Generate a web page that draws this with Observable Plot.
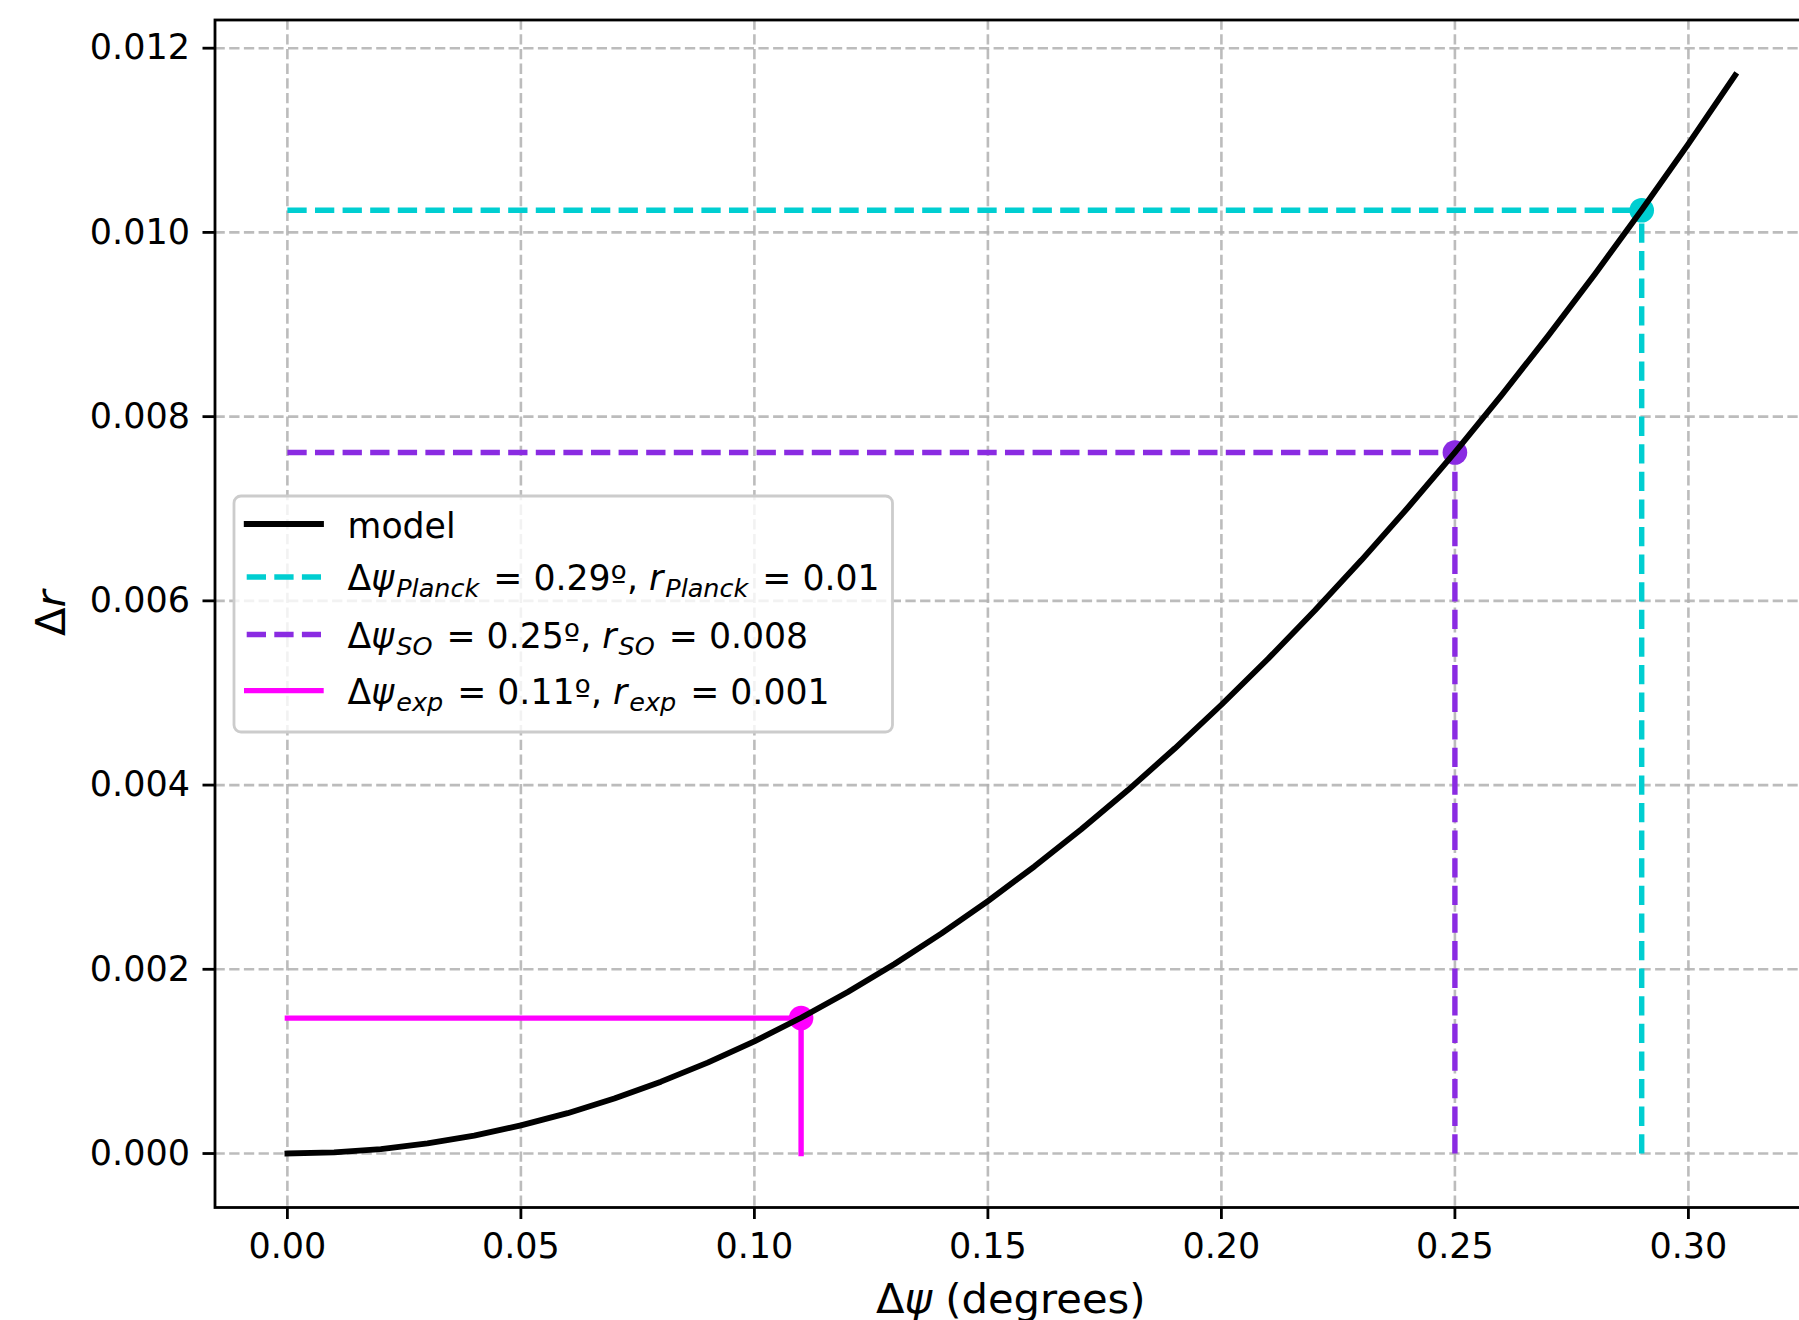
<!DOCTYPE html>
<html>
<head>
<meta charset="utf-8">
<script src="https://cdn.jsdelivr.net/npm/d3@7"></script>
<script src="https://cdn.jsdelivr.net/npm/@observablehq/plot@0.6"></script>
<style>
  html, body { margin: 0; padding: 0; background: #fff; overflow: hidden; width: 1799px; height: 1320px; }
  #chart svg { max-width: none !important; display: block; }
</style>
</head>
<body>
<div id="chart"></div>
<script>
// ---- data ----
const psiValues = [0, 0.01, 0.02, 0.03, 0.04, 0.05, 0.06, 0.07, 0.08, 0.09, 0.10,
  0.11, 0.12, 0.13, 0.14, 0.15, 0.16, 0.17, 0.18, 0.19, 0.20,
  0.21, 0.22, 0.23, 0.24, 0.25, 0.26, 0.27, 0.28, 0.29, 0.30, 0.31];
const rModel = [0, 0.0000122, 0.0000487, 0.00011, 0.000195, 0.000305, 0.000438, 0.000597, 0.00078, 0.000987, 0.001218,
  0.001474, 0.001754, 0.002058, 0.002387, 0.00274, 0.003118, 0.00352, 0.003946, 0.004397, 0.004872,
  0.005371, 0.005895, 0.006443, 0.007016, 0.007613, 0.008234, 0.008879, 0.009549, 0.010243, 0.010962, 0.011705];

const refNames = ["Planck", "SO", "exp"];
const refPsi = [0.29, 0.25, 0.11];
const refR = [0.01024, 0.00761, 0.00147];
const refPsiLabels = ["0.29", "0.25", "0.11"];
const refRLabels = ["0.01", "0.008", "0.001"];
const refColors = ["#00CED1", "#8A2BE2", "#FF00FF"];
const refDashed = [true, true, false];

const xTicks = [0, 0.05, 0.10, 0.15, 0.20, 0.25, 0.30];
const yTicks = [0, 0.002, 0.004, 0.006, 0.008, 0.010, 0.012];

// ---- build tables ----
const model = psiValues.map((p, i) => ({psi: p, r: rModel[i]}));
const refs = refNames.map((n, i) => ({name: n, psi: refPsi[i], r: refR[i], color: refColors[i], dashed: refDashed[i]}));

const FONT = "DejaVu Sans";
const LW = 5.4;
const gridStyle = {stroke: "#b0b0b0", strokeOpacity: 0.85, strokeWidth: 2.6, strokeDasharray: "10.3,4.4"};

const refMarks = [];
for (const d of refs) {
  const dash = d.dashed ? "19.3,8.3" : null;
  const cap = d.dashed ? "butt" : "square";
  refMarks.push(Plot.link([d], {x1: () => 0, y1: "r", x2: "psi", y2: "r", stroke: d.color, strokeWidth: LW, strokeDasharray: dash, strokeLinecap: cap}));
  refMarks.push(Plot.link([d], {x1: "psi", y1: () => 0, x2: "psi", y2: "r", stroke: d.color, strokeWidth: LW, strokeDasharray: dash, strokeLinecap: cap}));
}
const dotMarks = refs.map(d => Plot.dot([d], {x: "psi", y: "r", r: 12.3, fill: d.color, stroke: "none"}));

const chart = Plot.plot({
  width: 1807,
  height: 1320,
  marginLeft: 214.5,
  marginRight: 0,
  marginTop: 19.5,
  marginBottom: 113,
  style: {fontFamily: FONT, background: "white", overflow: "visible"},
  x: {domain: [-0.0155, 0.3255]},
  y: {domain: [-0.000586, 0.012306]},
  marks: [
    Plot.gridX(xTicks, gridStyle),
    Plot.gridY(yTicks, gridStyle),
    ...refMarks,
    ...dotMarks,
    Plot.line(model, {x: "psi", y: "r", stroke: "black", strokeWidth: 5.8, strokeLinecap: "square"}),
    Plot.frame({stroke: "black", strokeWidth: 2.8}),
    Plot.axisX(xTicks, {tickSize: 12, tickPadding: 14, fontSize: 35, strokeWidth: 2.8, tickFormat: d3.format(".2f"), label: null, fill: "black"}),
    Plot.axisY(yTicks, {tickSize: 12, tickPadding: 13, fontSize: 35, strokeWidth: 2.8, tickFormat: d3.format(".3f"), label: null, fill: "black"})
  ]
});
chart.style.maxWidth = "none";
document.getElementById("chart").appendChild(chart);

// ---- axis labels and legend (text with math italics) ----
const svg = d3.select(chart);
const plotLeft = 214.5, plotRight = 1807, plotTop = 19.5, plotBottom = 1207;

const xl = svg.append("text")
  .attr("x", (plotLeft + plotRight) / 2).attr("y", 1313)
  .attr("text-anchor", "middle").attr("font-family", FONT).attr("font-size", 41.7).attr("fill", "black");
xl.append("tspan").text("Δ");
xl.append("tspan").attr("font-style", "italic").text("ψ");
xl.append("tspan").text(" (degrees)");

const yl = svg.append("text")
  .attr("transform", `translate(65,${(plotTop + plotBottom) / 2}) rotate(-90)`)
  .attr("text-anchor", "middle").attr("font-family", FONT).attr("font-size", 41.7).attr("fill", "black");
yl.append("tspan").text("Δ");
yl.append("tspan").attr("font-style", "italic").text("r");

// legend
const lg = svg.append("g").attr("font-family", FONT).attr("font-size", 34.7).attr("text-anchor", "start");
lg.append("rect").attr("x", 234).attr("y", 496).attr("width", 658.5).attr("height", 236)
  .attr("rx", 7).attr("fill", "white").attr("fill-opacity", 0.8).attr("stroke", "#cccccc").attr("stroke-width", 2.8);

const rowY = [524, 577, 634.5, 690.6];
const hx1 = 246.7, hx2 = 321, tx = 347.6;
// model row
lg.append("line").attr("x1", hx1).attr("x2", hx2).attr("y1", rowY[0]).attr("y2", rowY[0])
  .attr("stroke", "black").attr("stroke-width", 5.8).attr("stroke-linecap", "square");
lg.append("text").attr("x", tx).attr("y", rowY[0] + 14).attr("text-anchor", "start").attr("fill", "black").text("model");

const SUB = 25.5;
refs.forEach((d, i) => {
  const y = rowY[i + 1];
  lg.append("line").attr("x1", hx1).attr("x2", hx2).attr("y1", y).attr("y2", y)
    .attr("stroke", d.color).attr("stroke-width", LW)
    .attr("stroke-dasharray", d.dashed ? "19.3,8.3" : null)
    .attr("stroke-linecap", d.dashed ? "butt" : "square");
  const t = lg.append("text").attr("x", tx).attr("y", y + 13).attr("text-anchor", "start").attr("fill", "black");
  t.append("tspan").text("Δ");
  t.append("tspan").attr("font-style", "italic").text("ψ");
  t.append("tspan").attr("font-style", "italic").attr("font-size", SUB).attr("dx", 2).attr("dy", 7).text(d.name);
  t.append("tspan").attr("dx", 3).attr("dy", -7).text(` = ${refPsiLabels[i]}º, `);
  t.append("tspan").attr("font-style", "italic").text("r");
  t.append("tspan").attr("font-style", "italic").attr("font-size", SUB).attr("dx", 2).attr("dy", 7).text(d.name);
  t.append("tspan").attr("dx", 3).attr("dy", -7).text(` = ${refRLabels[i]}`);
});
</script>
</body>
</html>
